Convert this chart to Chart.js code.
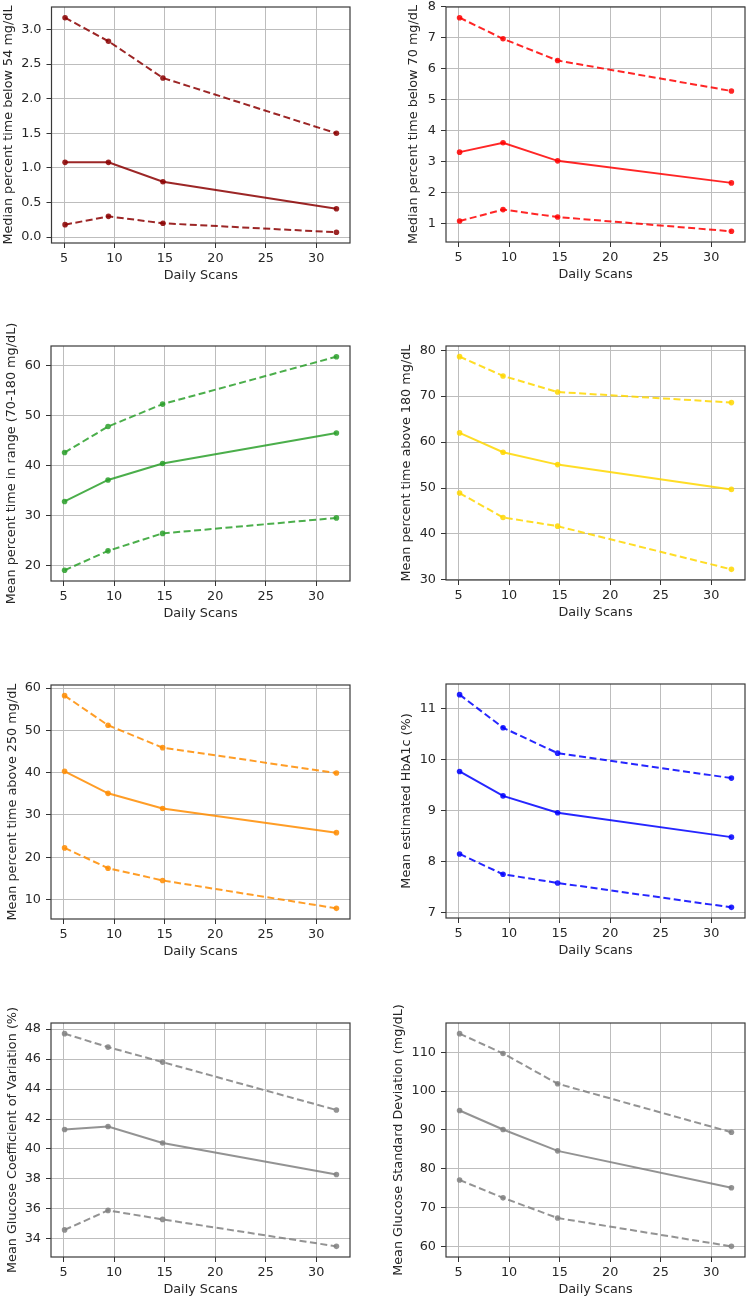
<!DOCTYPE html>
<html>
<head>
<meta charset="utf-8">
<script src="https://cdn.jsdelivr.net/npm/chart.js@4.4.1/dist/chart.umd.min.js"></script>
<style>
  html, body { margin: 0; padding: 0; background: #fff; }
  body { width: 749px; height: 1299px; position: relative; overflow: hidden; }
  canvas { position: absolute; }
</style>
</head>
<body>
<script>
// x values shared by every panel
const dailyScans = [5.1, 9.4, 14.8, 32];
const xTicks = [5, 10, 15, 20, 25, 30];

// upper / middle / lower lines for each panel
const below54Upper = [3.17, 2.83, 2.30, 1.50];
const below54Mid = [1.08, 1.08, 0.80, 0.41];
const below54Lower = [0.18, 0.30, 0.20, 0.07];
const below54Ticks = [0, 0.5, 1, 1.5, 2, 2.5, 3];

const below70Upper = [7.63, 6.95, 6.25, 5.27];
const below70Mid = [3.30, 3.60, 3.02, 2.31];
const below70Lower = [1.08, 1.45, 1.21, 0.75];
const below70Ticks = [1, 2, 3, 4, 5, 6, 7, 8];

const inRangeUpper = [42.6, 47.8, 52.3, 61.8];
const inRangeMid = [32.8, 37.1, 40.4, 46.5];
const inRangeLower = [19.0, 22.9, 26.4, 29.5];
const inRangeTicks = [20, 30, 40, 50, 60];

const above180Upper = [78.6, 74.4, 70.9, 68.6];
const above180Mid = [62.0, 57.8, 55.1, 49.7];
const above180Lower = [48.9, 43.6, 41.7, 32.3];
const above180Ticks = [30, 40, 50, 60, 70, 80];

const above250Upper = [58.2, 51.2, 45.9, 39.9];
const above250Mid = [40.3, 35.1, 31.5, 25.8];
const above250Lower = [22.2, 17.4, 14.5, 7.9];
const above250Ticks = [10, 20, 30, 40, 50, 60];

const hba1cUpper = [11.28, 10.63, 10.13, 9.64];
const hba1cMid = [9.77, 9.29, 8.96, 8.48];
const hba1cLower = [8.15, 7.75, 7.58, 7.10];
const hba1cTicks = [7, 8, 9, 10, 11];

const cvUpper = [47.7, 46.8, 45.8, 42.6];
const cvMid = [41.3, 41.5, 40.4, 38.3];
const cvLower = [34.6, 35.9, 35.3, 33.5];
const cvTicks = [34, 36, 38, 40, 42, 44, 46, 48];

const sdUpper = [114.8, 109.7, 101.9, 89.4];
const sdMid = [95.0, 90.1, 84.6, 75.1];
const sdLower = [77.1, 72.5, 67.3, 60.0];
const sdTicks = [60, 70, 80, 90, 100, 110];

const panels = [
  { label: 'Median percent time below 54 mg/dL', color: '139,0,0', up: below54Upper, mid: below54Mid, lo: below54Lower, ticks: below54Ticks, dec: 1,
    L: 51, T: 7, R: 352, B: 243, tx: 8.5 },
  { label: 'Median percent time below 70 mg/dL', color: '255,0,0', up: below70Upper, mid: below70Mid, lo: below70Lower, ticks: below70Ticks, dec: 0,
    L: 446, T: 7, R: 747, B: 242, tx: 414 },
  { label: 'Mean percent time in range (70-180 mg/dL)', color: '44,160,44', up: inRangeUpper, mid: inRangeMid, lo: inRangeLower, ticks: inRangeTicks, dec: 0,
    L: 51, T: 346, R: 352, B: 581, tx: 12 },
  { label: 'Mean percent time above 180 mg/dL', color: '255,215,0', up: above180Upper, mid: above180Mid, lo: above180Lower, ticks: above180Ticks, dec: 0,
    L: 446, T: 346, R: 747, B: 580, tx: 407 },
  { label: 'Mean percent time above 250 mg/dL', color: '255,140,0', up: above250Upper, mid: above250Mid, lo: above250Lower, ticks: above250Ticks, dec: 0,
    L: 51, T: 685, R: 352, B: 919, tx: 13 },
  { label: 'Mean estimated HbA1c (%)', color: '0,0,255', up: hba1cUpper, mid: hba1cMid, lo: hba1cLower, ticks: hba1cTicks, dec: 0,
    L: 446, T: 684, R: 747, B: 918, tx: 407 },
  { label: 'Mean Glucose Coefficient of Variation (%)', color: '128,128,128', up: cvUpper, mid: cvMid, lo: cvLower, ticks: cvTicks, dec: 0,
    L: 51, T: 1023, R: 352, B: 1257, tx: 13 },
  { label: 'Mean Glucose Standard Deviation (mg/dL)', color: '128,128,128', up: sdUpper, mid: sdMid, lo: sdLower, ticks: sdTicks, dec: 0,
    L: 446, T: 1023, R: 747, B: 1257, tx: 399 }
];

const font = { family: 'DejaVu Sans', size: 12.8 };
const textColor = '#262626';
const gridColor = '#bdbdbd';
const padTop = 40;
const xAxisH = 44;

// box around the plot area and the rotated y label (drawn by hand so long labels are not squeezed)
const framePlugin = {
  id: 'frame',
  afterDraw(chart, args, opts) {
    const { ctx, chartArea: a } = chart;
    ctx.save();
    ctx.strokeStyle = '#3a3a3a';
    ctx.lineWidth = 1.2;
    ctx.strokeRect(a.left, a.top, a.right - a.left, a.bottom - a.top);
    ctx.translate(opts.x, (a.top + a.bottom) / 2);
    ctx.rotate(-Math.PI / 2);
    ctx.fillStyle = textColor;
    ctx.font = font.size + 'px "' + font.family + '"';
    ctx.textAlign = 'center';
    ctx.textBaseline = 'middle';
    ctx.fillText(opts.text, 0, 0);
    ctx.restore();
  }
};

function series(ys) {
  return ys.map((y, i) => ({ x: dailyScans[i], y }));
}

function lineSet(ys, color, dashed) {
  return {
    data: series(ys),
    borderColor: 'rgba(' + color + ',0.85)',
    backgroundColor: 'rgba(' + color + ',0.85)',
    borderWidth: 2,
    borderDash: dashed ? [7, 3.5] : [],
    pointRadius: 2.8,
    pointBorderWidth: 0,
    tension: 0,
    clip: false
  };
}

panels.forEach(p => {
  const all = p.up.concat(p.mid, p.lo);
  const lo = Math.min(...all), hi = Math.max(...all);
  const pad = (hi - lo) * 0.05;

  const cx = p.tx - 10;
  const cy = p.T - padTop;
  const w = p.R + 2 - cx;
  const h = padTop + (p.B - p.T) + xAxisH;

  const canvas = document.createElement('canvas');
  canvas.width = w;
  canvas.height = h;
  canvas.style.left = cx + 'px';
  canvas.style.top = cy + 'px';
  canvas.style.width = w + 'px';
  canvas.style.height = h + 'px';
  document.body.appendChild(canvas);

  new Chart(canvas, {
    type: 'line',
    data: {
      datasets: [
        lineSet(p.up, p.color, true),
        lineSet(p.mid, p.color, false),
        lineSet(p.lo, p.color, true)
      ]
    },
    options: {
      responsive: false,
      animation: false,
      devicePixelRatio: 1,
      layout: { padding: { top: padTop, right: 2, left: 0, bottom: 0 } },
      plugins: {
        legend: { display: false },
        tooltip: { enabled: false },
        frame: { x: 10, text: p.label }
      },
      scales: {
        x: {
          type: 'linear',
          min: 3.755,
          max: 33.345,
          afterBuildTicks: s => { s.ticks = xTicks.map(v => ({ value: v })); },
          afterFit: s => { s.height = xAxisH; },
          grid: { color: gridColor, lineWidth: 1, tickLength: 5, tickColor: '#333' },
          border: { display: false },
          ticks: { color: textColor, font, padding: 3, maxRotation: 0, autoSkip: false },
          title: { display: true, text: 'Daily Scans', color: textColor, font, padding: { top: 0, bottom: 4 } }
        },
        y: {
          type: 'linear',
          min: lo - pad,
          max: hi + pad,
          afterBuildTicks: s => { s.ticks = p.ticks.map(v => ({ value: v })); },
          afterFit: s => { s.width = p.L - cx; },
          grid: { color: gridColor, lineWidth: 1, tickLength: 5, tickColor: '#333' },
          border: { display: false },
          ticks: { color: textColor, font, padding: 5, autoSkip: false, callback: v => v.toFixed(p.dec) }
        }
      }
    },
    plugins: [framePlugin]
  });
});
</script>
</body>
</html>
